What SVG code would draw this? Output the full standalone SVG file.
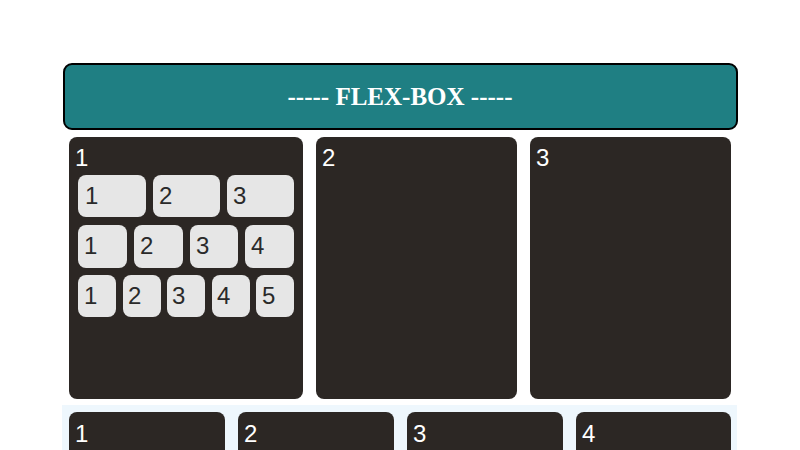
<svg xmlns="http://www.w3.org/2000/svg" width="800" height="450" viewBox="0 0 800 450">
<style>
.panel{fill:#2c2724}
.box{fill:#e6e6e6}
.pl{font-family:"Liberation Sans",Arial,sans-serif;font-size:24px;fill:#ffffff}
.bl{font-family:"Liberation Sans",Arial,sans-serif;font-size:24px;fill:#2a2a2a}
.title{font-family:"Liberation Serif","Times New Roman",serif;font-size:25px;font-weight:bold;fill:#ffffff}
</style>
<rect width="800" height="450" fill="#ffffff"/>
<g id="header">
<rect x="64" y="64" width="673" height="65" rx="8" fill="#1f7f83" stroke="#000" stroke-width="2"/>
<text class="title" x="400" y="105" text-anchor="middle">----- FLEX-BOX -----</text>
</g>
<g id="panel1">
<rect class="panel" x="69" y="137" width="234" height="262" rx="8"/>
<text class="pl" x="75" y="166">1</text>
</g>
<g id="row1">
<g id="r1b1"><rect class="box" x="78" y="175" width="68" height="42" rx="8"/><text class="bl" x="85" y="204">1</text></g>
<g id="r1b2"><rect class="box" x="153" y="175" width="67" height="42" rx="8"/><text class="bl" x="159" y="204">2</text></g>
<g id="r1b3"><rect class="box" x="227" y="175" width="67" height="42" rx="8"/><text class="bl" x="233" y="204">3</text></g>
</g>
<g id="row2">
<g id="r2b1"><rect class="box" x="78" y="225" width="49" height="43" rx="8"/><text class="bl" x="84" y="254">1</text></g>
<g id="r2b2"><rect class="box" x="134" y="225" width="49" height="43" rx="8"/><text class="bl" x="140" y="254">2</text></g>
<g id="r2b3"><rect class="box" x="190" y="225" width="48" height="43" rx="8"/><text class="bl" x="196" y="254">3</text></g>
<g id="r2b4"><rect class="box" x="245" y="225" width="49" height="43" rx="8"/><text class="bl" x="251" y="254">4</text></g>
</g>
<g id="row3">
<g id="r3b1"><rect class="box" x="78" y="275" width="38" height="42" rx="8"/><text class="bl" x="84" y="304">1</text></g>
<g id="r3b2"><rect class="box" x="123" y="275" width="38" height="42" rx="8"/><text class="bl" x="128" y="304">2</text></g>
<g id="r3b3"><rect class="box" x="167" y="275" width="38" height="42" rx="8"/><text class="bl" x="172" y="304">3</text></g>
<g id="r3b4"><rect class="box" x="212" y="275" width="38" height="42" rx="8"/><text class="bl" x="217" y="304">4</text></g>
<g id="r3b5"><rect class="box" x="256" y="275" width="38" height="42" rx="8"/><text class="bl" x="262" y="304">5</text></g>
</g>
<g id="panel2">
<rect class="panel" x="316" y="137" width="201" height="262" rx="8"/>
<text class="pl" x="322" y="166">2</text>
</g>
<g id="panel3">
<rect class="panel" x="530" y="137" width="201" height="262" rx="8"/>
<text class="pl" x="536" y="166">3</text>
</g>
<g id="bottom">
<rect x="62" y="405" width="675" height="50" fill="#eef7fd"/>
<g id="b1"><rect class="panel" x="69" y="412" width="156" height="50" rx="8"/><text class="pl" x="75" y="442">1</text></g>
<g id="b2"><rect class="panel" x="238" y="412" width="156" height="50" rx="8"/><text class="pl" x="244" y="442">2</text></g>
<g id="b3"><rect class="panel" x="407" y="412" width="156" height="50" rx="8"/><text class="pl" x="413" y="442">3</text></g>
<g id="b4"><rect class="panel" x="576" y="412" width="155" height="50" rx="8"/><text class="pl" x="582" y="442">4</text></g>
</g>
<g id="connectors"/>
</svg>
